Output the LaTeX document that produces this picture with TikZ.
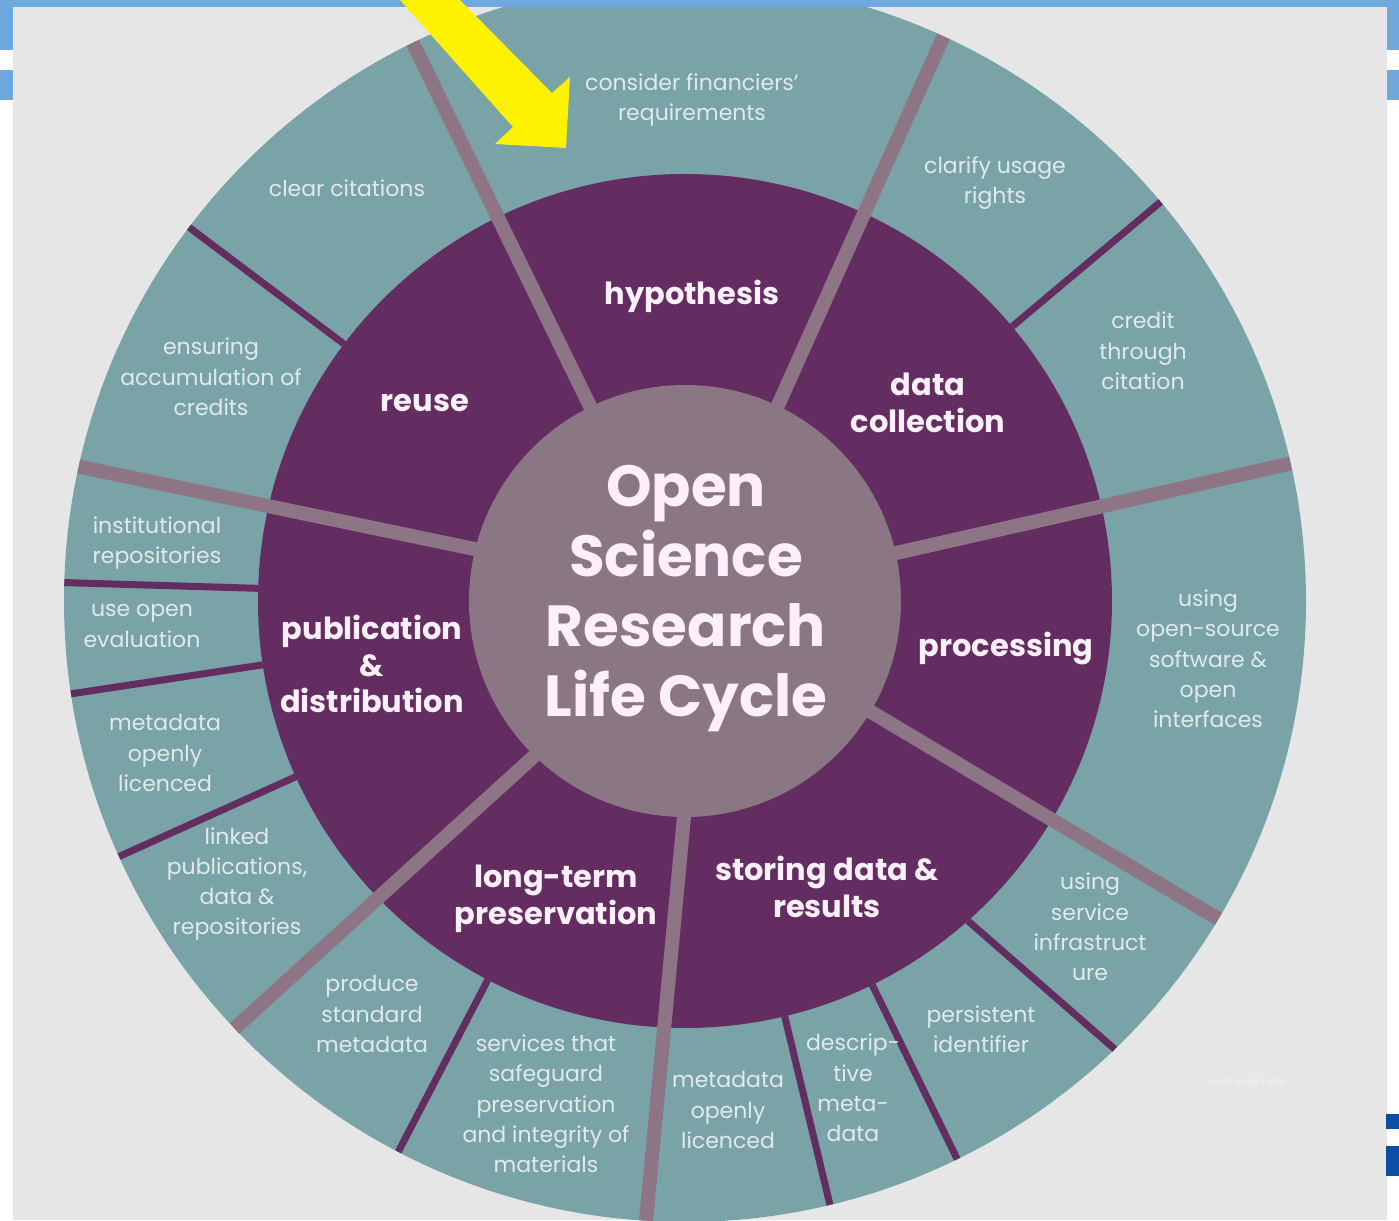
\documentclass[tikz,border=0pt]{standalone}
\usepackage{fontspec}
\setmainfont{Poppins}
\definecolor{ringteal}{HTML}{79A3A6}
\definecolor{ringpurple}{HTML}{642D61}
\definecolor{hubgrey}{HTML}{8B7783}
\definecolor{spokegrey}{HTML}{8E7586}
\definecolor{panelgrey}{HTML}{E6E6E6}
\definecolor{slideblue}{HTML}{6FA8DC}
\definecolor{logoblue}{HTML}{0A4FA3}
\definecolor{subtext}{HTML}{DFEAEC}
\definecolor{phasetext}{HTML}{FDF0FB}
\tikzset{
  sub/.style={text=subtext, align=center, font=\fontsize{22}{30.3}\selectfont, yshift=-3pt},
  phase/.style={text=phasetext, align=center, font=\bfseries\fontsize{30.5}{36.5}\selectfont, yshift=-3pt},
  spoke/.style={draw=spokegrey, line width=14pt},
  divider/.style={draw=ringpurple, line width=7pt}
}
\begin{document}
\begin{tikzpicture}[x=1pt,y=1pt]
       \useasboundingbox (-685,-619) rectangle (714,601);
       \fill[white] (-685,-619) rectangle (714,601);
       \fill[panelgrey] (-672,-619) rectangle (702,594);
       % rings
       \fill[ringteal] (0,0) circle (621);
       \fill[ringpurple] (0,0) circle (427);
       \foreach \a in {143,40,-64,-76.5,242.5,178.3,188.6,204.3}
         \draw[divider] (\a:427) -- (\a:621);
       \draw[divider] (-48.5:427) -- (-46.2:621);
       \foreach \i/\o in {116/116,64.5/65.4,12.8/12.8,-30.8/-30.8,-90/-93.6,226/223.5,166/167.5}
         \draw[spoke] (\i:205) -- (\o:621);
       \fill[hubgrey] (0,0) circle (216);
       % slide frame
       \fill[slideblue] (-685,594) rectangle (714,601);
       \fill[slideblue] (-685,551) rectangle (-672,601);
       \fill[slideblue] (-685,501) rectangle (-672,531);
       \fill[slideblue] (702,551) rectangle (714,601);
       \fill[slideblue] (702,501) rectangle (714,531);
       \fill[logoblue] (701,-528) rectangle (714,-513);
       \fill[logoblue] (701,-575) rectangle (714,-545);
       \fill[yellow] (-285,601) -- (-172,474) -- (-190,457) -- (-119,453)
         -- (-115,524) -- (-133,508) -- (-225,601) -- cycle;
       % centre
       \node (title) at (1,2) [text=phasetext, align=center,
         font=\bfseries\fontsize{58}{70}\selectfont] {Open\\Science\\Research\\Life Cycle};
       % phases
       \node[phase] (hyp) at (7,308) {hypothesis};
       \node[phase] (reuse) at (-260,201) {reuse};
       \node[phase] (coll) at (243,201) {data\\collection};
       \node[phase] (proc) at (321,-44) {processing};
       \node[phase] (store) at (142,-283) {storing data \&\\results};
       \node[phase] (pres) at (-129,-295) {long-term\\preservation};
       \node[phase] (publ) at (-313,-60) {publication\\\&\\distribution};
       % outer ring
       \node[sub] (finan) at (7,504) {consider financiers'\\requirements};
       \node[sub] (cite) at (-338,416) {clear citations};
       \node[sub] (rights) at (310,421) {clarify usage\\rights};
       \node[sub] (credit) at (458,253) {credit\\through\\citation};
       \node[sub] (accum) at (-474,227) {ensuring\\accumulation of\\credits};
       \node[sub] (repo) at (-528,61) {institutional\\repositories};
       \node[sub] (eval) at (-543,-22) {use open\\evaluation};
       \node[sub] (licpub) at (-520,-149) {metadata\\openly\\licenced};
       \node[sub] (linked) at (-448,-280) {linked\\publications,\\data \&\\repositories};
       \node[sub] (stdmeta) at (-313,-410) {produce\\standard\\metadata};
       \node[sub] (safe) at (-139,-500) {services that\\safeguard\\preservation\\and integrity of\\materials};
       \node[sub] (licstore) at (43,-506) {metadata\\openly\\licenced};
       \node[sub] (descr) at (168,-484) {descrip-\\tive\\meta-\\data};
       \node[sub] (pid) at (296,-425) {persistent\\identifier};
       \node[sub] (infra) at (405,-323) {using\\service\\infrastruct\\ure};
       \node[sub] (oss) at (523,-55) {using\\open-source\\software \&\\open\\interfaces};
       \node (faint) at (562,-482) [text=white!60!panelgrey, font=\fontsize{8}{9}\selectfont] {clarify usage rights};
\end{tikzpicture}
\end{document}
